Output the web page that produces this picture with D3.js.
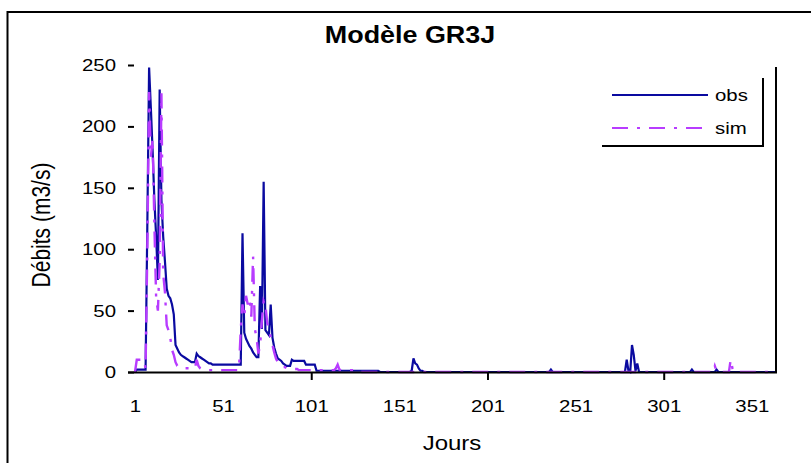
<!DOCTYPE html>
<html>
<head>
<meta charset="utf-8">
<script src="https://cdn.jsdelivr.net/npm/d3@7"></script>
<style>
  html, body { margin: 0; padding: 0; background: #ffffff; }
  svg { display: block; }
  text { font-family: "Liberation Sans", Arial, sans-serif; fill: #000; }
</style>
</head>
<body>
<svg id="chart" width="811" height="463"></svg>
<script>
// Daily discharge (m3/s) over one year, observed vs GR3J simulation
const days = d3.range(1, 366);

const obs = [
  0, 2, 2, 2, 2, 2, 2, 120, 248, 215,
  180, 140, 110, 75, 230, 140, 110, 90, 68, 62,
  60, 55, 47, 22, 19, 16, 14, 13, 12, 11,
  10, 9, 8, 8, 8, 15, 13, 12, 11, 10,
  9, 8, 7, 7, 6, 6, 6, 6, 6, 6,
  6, 6, 6, 6, 6, 6, 6, 6, 6, 6,
  6, 113, 32, 27, 24, 21, 19, 16, 14, 12,
  12, 70, 35, 155, 34, 32, 30, 55, 28, 20,
  15, 11, 10, 9, 7, 6, 5, 5, 5, 10,
  9, 9, 9, 9, 9, 9, 9, 6, 6, 6,
  6, 6, 6, 1, 1, 1, 1, 1, 1, 1,
  1, 1, 1, 1, 1, 1, 1, 1, 1, 1,
  1, 1, 1, 1, 1, 1, 1, 1, 1, 1,
  1, 1, 1, 1, 1, 1, 1, 1, 1, 0,
  0, 0, 0, 0, 0, 0, 0, 0, 0, 0,
  0, 0, 0, 0, 0, 0, 0, 1, 11, 7,
  6, 3, 1, 1, 0, 0, 0, 0, 0, 0,
  0, 0, 0, 0, 0, 0, 0, 0, 0, 0,
  0, 0, 0, 0, 0, 0, 0, 0, 0, 0,
  0, 0, 0, 0, 0, 0, 0, 0, 0, 0,
  0, 0, 0, 0, 0, 0, 0, 0, 0, 0,
  0, 0, 0, 0, 0, 0, 0, 0, 0, 0,
  0, 0, 0, 0, 0, 0, 0, 0, 0, 0,
  0, 0, 0, 0, 0, 0, 2, 0, 0, 0,
  0, 0, 0, 0, 0, 0, 0, 0, 0, 0,
  0, 0, 0, 0, 0, 0, 0, 0, 0, 0,
  0, 0, 0, 0, 0, 0, 0, 0, 0, 0,
  0, 0, 0, 0, 0, 0, 0, 0, 0, 10,
  1, 0, 22, 14, 1, 7, 0, 0, 0, 0,
  0, 0, 0, 0, 0, 0, 0, 0, 0, 0,
  0, 0, 0, 0, 0, 0, 0, 0, 0, 0,
  0, 0, 0, 0, 0, 0, 2, 0, 0, 0,
  0, 0, 0, 0, 0, 0, 0, 0, 0, 0,
  2, 0, 0, 0, 0, 0, 0, 0, 0, 0,
  0, 0, 0, 0, 0, 0, 0, 0, 0, 0,
  0, 0, 0, 0, 0, 0, 0, 0, 0, 0,
  0, 0, 0, 0, 0
];

const sim = [
  0, 10, 10, 10, 10, 10, 3, 100, 228, 175,
  190, 120, 60, 50, 90, 227, 80, 65, 38, 34,
  28, 18, 14, 8, 5, 4, 4, 3, 3, 3,
  3, 3, 3, 3, 3, 10, 5, 3, 2, 2,
  2, 2, 1.5, 1.5, 1.5, 1.5, 1.5, 1.5, 1.5, 1.5,
  1.5, 1.5, 1.5, 1.5, 1.5, 1.5, 1.5, 1.5, 1.5, 2,
  35, 55, 45, 62, 55, 60, 45, 94, 35, 28,
  15, 22, 42, 58, 55, 40, 35, 28, 22, 16,
  11, 8, 6, 5, 4, 4, 3, 3, 2.5, 2.5,
  2.5, 2.5, 2.5, 1.5, 1.5, 1.5, 1.5, 1.5, 1.5, 1.5,
  1.5, 1.5, 1.5, 1.5, 1.5, 1.5, 1.5, 1.5, 1.5, 1.5,
  1.5, 1.5, 1.5, 1.5, 3, 6, 2, 1.5, 1.5, 1.5,
  1.5, 1.5, 1.5, 1.5, 1.5, 1.5, 1.5, 0, 0, 0,
  0, 0, 0, 0, 0, 0, 0, 0, 0, 0,
  0, 0, 0, 0, 0, 0, 0, 0, 0, 0,
  0, 0, 0, 0, 0, 0, 0, 0, 0, 0,
  0, 0, 0, 0, 0, 0, 0, 0, 0, 0,
  0, 0, 0, 0, 0, 0, 0, 0, 0, 0,
  0, 0, 0, 0, 0, 0, 0, 0, 0, 0,
  0, 0, 0, 0, 0, 0, 0, 0, 0, 0,
  0, 0, 0, 0, 0, 0, 0, 0, 0, 0,
  0, 0, 0, 0, 0, 0, 0, 0, 0, 0,
  0, 0, 0, 0, 0, 0, 0, 0, 0, 0,
  0, 0, 0, 0, 0, 0, 0, 0, 0, 0,
  0, 0, 0, 0, 0, 0, 0, 0, 0, 0,
  0, 0, 0, 0, 0, 0, 0, 0, 0, 0,
  0, 0, 0, 0, 0, 0, 0, 0, 0, 0,
  0, 0, 0, 0, 0, 0, 0, 0, 0, 0,
  0, 0, 0, 0, 0, 0, 0, 0, 0, 0,
  0, 0, 0, 0, 0, 0, 0, 0, 0, 0,
  0, 0, 0, 0, 0, 0, 0, 0, 0, 0,
  0, 0, 0, 0, 0, 0, 0, 0, 0, 0,
  0, 0, 0, 0, 0, 0, 0, 0, 0, 5,
  1, 0, 0, 0, 0, 0, 0, 0, 10, 3,
  0, 0, 0, 0, 0, 0, 0, 0, 0, 0,
  0, 0, 0, 0, 0, 0, 0, 0, 0, 0,
  0, 0, 0, 0, 0
];

const xLabelDays = [1, 51, 101, 151, 201, 251, 301, 351];
const xTickDays = [101, 201, 301];
const yTicks = [0, 50, 100, 150, 200, 250];

const seriesNames = ["obs", "sim"];
const seriesColors = ["#0a0aa0", "#b83cff"];

const title = "Modèle GR3J";
const xTitle = "Jours";
const yTitle = "Débits (m3/s)";

// ---- layout ----
const svg = d3.select("#chart");
const plotLeft = 128, plotRight = 776, plotTop = 67, plotBottom = 372;
const xStretch = 1.2;

const x = d3.scaleLinear().domain([1, 365]).range([135, 776.5]);
const y = d3.scaleLinear().domain([0, 250]).range([372, 65]);

// outer chart frame
svg.append("rect")
  .attr("x", 7.5).attr("y", 12).attr("width", 900).attr("height", 600)
  .attr("fill", "none").attr("stroke", "#000").attr("stroke-width", 2);

// title
svg.append("text")
  .attr("transform", `translate(410,43) scale(1.17,1)`)
  .attr("text-anchor", "middle")
  .style("font-size", "23px").style("font-weight", "bold")
  .text(title);

// data lines
const line = d3.line().x((d, i) => x(days[i])).y(d => y(d));
const lines = svg.append("g");
lines.append("path").datum(obs)
  .attr("d", line).attr("fill", "none")
  .attr("stroke", seriesColors[0]).attr("stroke-width", 2.2);
lines.append("path").datum(sim)
  .attr("d", line).attr("fill", "none")
  .attr("stroke", seriesColors[1]).attr("stroke-width", 2.4)
  .attr("stroke-dasharray", "16,9,3,9");

// x axis: labels
const xAxis = svg.append("g").attr("transform", `translate(0,${plotBottom})`)
  .call(d3.axisBottom(x).tickValues(xLabelDays).tickSize(0).tickFormat(d3.format("d")));
xAxis.select(".domain").remove();
xAxis.selectAll("text")
  .attr("y", 0).attr("dy", null)
  .attr("transform", `translate(0,40) scale(${xStretch},1)`)
  .style("font-size", "17px");

// x axis: tick marks every 100 days
const xMarks = svg.append("g").attr("transform", `translate(0,${plotBottom})`)
  .call(d3.axisBottom(x).tickValues(xTickDays).tickSize(8).tickFormat(""));
xMarks.select(".domain").remove();
xMarks.selectAll("line").attr("stroke", "#000").attr("stroke-width", 2);

// axis baseline and right plot border
svg.append("line")
  .attr("x1", plotLeft).attr("x2", plotRight + 1)
  .attr("y1", plotBottom + 0.5).attr("y2", plotBottom + 0.5)
  .attr("stroke", "#000").attr("stroke-width", 2);
svg.append("line")
  .attr("x1", plotRight).attr("x2", plotRight)
  .attr("y1", plotTop).attr("y2", plotBottom + 1)
  .attr("stroke", "#000").attr("stroke-width", 2);

// y axis
const yAxis = svg.append("g").attr("transform", `translate(134,0)`)
  .call(d3.axisLeft(y).tickValues(yTicks).tickSize(6));
yAxis.select(".domain").remove();
yAxis.selectAll("line").attr("stroke", "#000").attr("stroke-width", 2);
yAxis.selectAll("text")
  .attr("x", 0)
  .attr("transform", `translate(-18,0) scale(${xStretch},1)`)
  .style("font-size", "17px");

// axis titles
svg.append("text")
  .attr("transform", `translate(452,450) scale(${xStretch},1)`)
  .attr("text-anchor", "middle")
  .style("font-size", "20px")
  .text(xTitle);
svg.append("text")
  .attr("transform", `translate(50,225) scale(${xStretch},1) rotate(-90)`)
  .attr("text-anchor", "middle")
  .style("font-size", "21px")
  .text(yTitle);

// legend with shadow-style frame
const legend = svg.append("g");
legend.append("line").attr("x1", 602).attr("x2", 764).attr("y1", 146).attr("y2", 146)
  .attr("stroke", "#000").attr("stroke-width", 2);
legend.append("line").attr("x1", 763).attr("x2", 763).attr("y1", 78).attr("y2", 147)
  .attr("stroke", "#000").attr("stroke-width", 2);
const legendY = [95, 128];
seriesNames.forEach((name, i) => {
  legend.append("line")
    .attr("x1", 612).attr("x2", 708)
    .attr("y1", legendY[i]).attr("y2", legendY[i])
    .attr("stroke", seriesColors[i]).attr("stroke-width", 2.2)
    .attr("stroke-dasharray", i === 1 ? "16,9,3,9" : null);
  legend.append("text")
    .attr("transform", `translate(715,${legendY[i] + 6}) scale(${xStretch},1)`)
    .style("font-size", "17px")
    .text(name);
});
</script>
</body>
</html>
